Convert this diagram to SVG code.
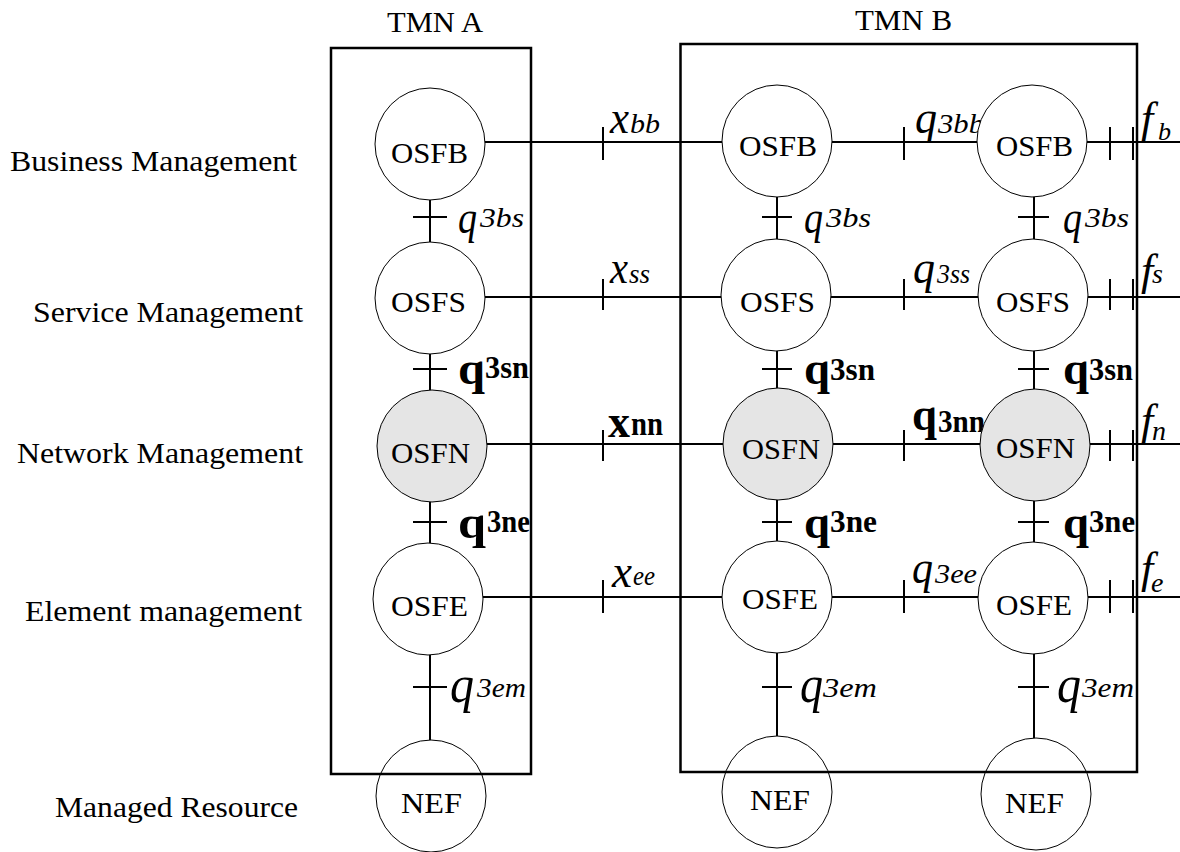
<svg xmlns="http://www.w3.org/2000/svg" width="1180" height="852" viewBox="0 0 1180 852">
<style>
text{font-family:"Liberation Serif","Times New Roman",serif;fill:#000}
.lbl{font-size:30px}
.nt{font-size:30px}
.it{font-style:italic}
.bd{font-weight:bold}
.ln{stroke:#000;stroke-width:2;fill:none}
.box{stroke:#000;stroke-width:2.5;fill:none}
.node{stroke:#000;stroke-width:1;fill:#fff}
.gray{fill:#e5e5e5}
</style>
<rect width="1180" height="852" fill="#fff"/>
<g id="layer-labels">
<text class="lbl" x="10" y="171" textLength="287" lengthAdjust="spacingAndGlyphs">Business Management</text>
<text class="lbl" x="33" y="322" textLength="270" lengthAdjust="spacingAndGlyphs">Service Management</text>
<text class="lbl" x="17" y="463" textLength="286" lengthAdjust="spacingAndGlyphs">Network Management</text>
<text class="lbl" x="25" y="621" textLength="277" lengthAdjust="spacingAndGlyphs">Element management</text>
<text class="lbl" x="55" y="817" textLength="243" lengthAdjust="spacingAndGlyphs">Managed Resource</text>
<text class="lbl" x="387" y="32" textLength="96" lengthAdjust="spacingAndGlyphs">TMN A</text>
<text class="lbl" x="855" y="30" textLength="97" lengthAdjust="spacingAndGlyphs">TMN B</text>
</g>
<g id="connectors">
<path class="ln" d="M485 142H722M832 142H977M1087 142H1180"/>
<path class="ln" d="M485 297H721M830 297H978M1088 297H1180"/>
<path class="ln" d="M487 444H724M833 444H981M1090 444H1180"/>
<path class="ln" d="M483 597H722M832 597H979M1088 597H1180"/>
<path class="ln" d="M603 127V160M904 127V160M1110 127V160M1133 127V160"/>
<path class="ln" d="M603 279V310M904 279V310M1110 279V310M1133 279V310"/>
<path class="ln" d="M603 430V461M904 430V461M1110 430V461M1133 430V461"/>
<path class="ln" d="M603 580V613M904 580V613M1110 580V613M1133 580V613"/>
<path class="ln" d="M430 200V242M430 354V390M430 502V543M430 655V740"/>
<path class="ln" d="M777 197V239M777 351V388M777 500V541M777 653V736"/>
<path class="ln" d="M1034 197V239M1034 351V389M1034 501V542M1034 654V738"/>
<path class="ln" d="M413 217H447M413 369H447M413 522H447M413 687H447"/>
<path class="ln" d="M762 217H792M762 369H792M762 522H792M762 687H792"/>
<path class="ln" d="M1018 217H1049M1018 369H1049M1018 522H1049M1018 687H1049"/>
</g>
<g id="interface-labels">
<g id="lbl-xbb"><text class="it" x="610" y="133" font-size="46" textLength="19" lengthAdjust="spacingAndGlyphs">x</text><text class="it" x="630" y="133" font-size="27" textLength="30" lengthAdjust="spacingAndGlyphs">bb</text></g>
<g id="lbl-xss"><text class="it" x="610" y="283" font-size="46" textLength="18" lengthAdjust="spacingAndGlyphs">x</text><text class="it" x="629" y="283" font-size="28" textLength="21" lengthAdjust="spacingAndGlyphs">ss</text></g>
<g id="lbl-xnn"><text class="bd" x="608" y="437" font-size="46" textLength="22" lengthAdjust="spacingAndGlyphs">x</text><text class="bd" x="631" y="435" font-size="33" textLength="32" lengthAdjust="spacingAndGlyphs">nn</text></g>
<g id="lbl-xee"><text class="it" x="612" y="587" font-size="46" textLength="20" lengthAdjust="spacingAndGlyphs">x</text><text class="it" x="633" y="585" font-size="28" textLength="22" lengthAdjust="spacingAndGlyphs">ee</text></g>
<g id="lbl-q3bb"><text class="it" x="915" y="133" font-size="46" textLength="22" lengthAdjust="spacingAndGlyphs">q</text><text class="it" x="938" y="133" font-size="27" textLength="46" lengthAdjust="spacingAndGlyphs">3bb</text></g>
<g id="lbl-q3ss"><text class="it" x="913" y="283" font-size="46" textLength="22" lengthAdjust="spacingAndGlyphs">q</text><text class="it" x="937" y="283" font-size="28" textLength="33" lengthAdjust="spacingAndGlyphs">3ss</text></g>
<g id="lbl-q3nn"><text class="bd" x="912" y="430" font-size="47" textLength="25" lengthAdjust="spacingAndGlyphs">q</text><text class="bd" x="938" y="432" font-size="31" textLength="47" lengthAdjust="spacingAndGlyphs">3nn</text></g>
<g id="lbl-q3ee"><text class="it" x="912" y="583" font-size="46" textLength="21" lengthAdjust="spacingAndGlyphs">q</text><text class="it" x="935" y="583" font-size="28" textLength="42" lengthAdjust="spacingAndGlyphs">3ee</text></g>
<g id="lbl-fb"><text class="it" x="1141" y="133" font-size="44">f</text><text class="it" x="1158" y="140" font-size="26">b</text></g>
<g id="lbl-fs"><text class="it" x="1141" y="285" font-size="44">f</text><text class="it" x="1152" y="283" font-size="28">s</text></g>
<g id="lbl-fn"><text class="it" x="1141" y="435" font-size="44">f</text><text class="it" x="1152" y="440" font-size="28">n</text></g>
<g id="lbl-fe"><text class="it" x="1141" y="583" font-size="44">f</text><text class="it" x="1151" y="592" font-size="28">e</text></g>
<g id="lbl-q3bs">
<text class="it" x="458" y="233" font-size="46" textLength="19" lengthAdjust="spacingAndGlyphs">q</text><text class="it" x="480" y="227" font-size="27" textLength="44" lengthAdjust="spacingAndGlyphs">3bs</text>
<text class="it" x="804" y="233" font-size="46" textLength="19" lengthAdjust="spacingAndGlyphs">q</text><text class="it" x="826" y="227" font-size="27" textLength="45" lengthAdjust="spacingAndGlyphs">3bs</text>
<text class="it" x="1063" y="233" font-size="46" textLength="19" lengthAdjust="spacingAndGlyphs">q</text><text class="it" x="1085" y="227" font-size="27" textLength="44" lengthAdjust="spacingAndGlyphs">3bs</text>
</g>
<g id="lbl-q3sn">
<text class="bd" x="458" y="384" font-size="47" textLength="27" lengthAdjust="spacingAndGlyphs">q</text><text class="bd" x="485" y="378" font-size="32" textLength="44" lengthAdjust="spacingAndGlyphs">3sn</text>
<text class="bd" x="804" y="384" font-size="47" textLength="26" lengthAdjust="spacingAndGlyphs">q</text><text class="bd" x="830" y="380" font-size="32" textLength="45" lengthAdjust="spacingAndGlyphs">3sn</text>
<text class="bd" x="1063" y="384" font-size="47" textLength="26" lengthAdjust="spacingAndGlyphs">q</text><text class="bd" x="1089" y="380" font-size="32" textLength="44" lengthAdjust="spacingAndGlyphs">3sn</text>
</g>
<g id="lbl-q3ne">
<text class="bd" x="458" y="538" font-size="47" textLength="28" lengthAdjust="spacingAndGlyphs">q</text><text class="bd" x="487" y="532" font-size="32" textLength="43" lengthAdjust="spacingAndGlyphs">3ne</text>
<text class="bd" x="804" y="538" font-size="47" textLength="26" lengthAdjust="spacingAndGlyphs">q</text><text class="bd" x="830" y="532" font-size="32" textLength="47" lengthAdjust="spacingAndGlyphs">3ne</text>
<text class="bd" x="1063" y="538" font-size="47" textLength="26" lengthAdjust="spacingAndGlyphs">q</text><text class="bd" x="1089" y="532" font-size="32" textLength="46" lengthAdjust="spacingAndGlyphs">3ne</text>
</g>
<g id="lbl-q3em">
<text class="it" x="450" y="702" font-size="52" textLength="24" lengthAdjust="spacingAndGlyphs">q</text><text class="it" x="477" y="697" font-size="27" textLength="49" lengthAdjust="spacingAndGlyphs">3em</text>
<text class="it" x="800" y="702" font-size="52" textLength="23" lengthAdjust="spacingAndGlyphs">q</text><text class="it" x="823" y="697" font-size="27" textLength="54" lengthAdjust="spacingAndGlyphs">3em</text>
<text class="it" x="1057" y="702" font-size="52" textLength="24" lengthAdjust="spacingAndGlyphs">q</text><text class="it" x="1082" y="697" font-size="27" textLength="52" lengthAdjust="spacingAndGlyphs">3em</text>
</g>
</g>
<g id="A-OSFB"><ellipse class="node" cx="430" cy="144" rx="55" ry="56"/><text class="nt" x="391" y="163" textLength="77" lengthAdjust="spacingAndGlyphs">OSFB</text></g>
<g id="A-OSFS"><ellipse class="node" cx="430" cy="298" rx="55" ry="56"/><text class="nt" x="391" y="312" textLength="75" lengthAdjust="spacingAndGlyphs">OSFS</text></g>
<g id="A-OSFN"><ellipse class="node gray" cx="432" cy="446" rx="55" ry="56"/><text class="nt" x="391" y="463" textLength="79" lengthAdjust="spacingAndGlyphs">OSFN</text></g>
<g id="A-OSFE"><ellipse class="node" cx="428" cy="599" rx="55" ry="56"/><text class="nt" x="391" y="616" textLength="77" lengthAdjust="spacingAndGlyphs">OSFE</text></g>
<g id="A-NEF"><ellipse class="node" cx="431" cy="796" rx="55" ry="56" fill="none"/><text class="nt" x="401" y="813" textLength="61" lengthAdjust="spacingAndGlyphs">NEF</text></g>
<g id="B1-OSFB"><ellipse class="node" cx="777" cy="141" rx="55" ry="56"/><text class="nt" x="739" y="156" textLength="78" lengthAdjust="spacingAndGlyphs">OSFB</text></g>
<g id="B1-OSFS"><ellipse class="node" cx="776" cy="295" rx="55" ry="56"/><text class="nt" x="740" y="312" textLength="75" lengthAdjust="spacingAndGlyphs">OSFS</text></g>
<g id="B1-OSFN"><ellipse class="node gray" cx="778" cy="444" rx="55" ry="56"/><text class="nt" x="742" y="459" textLength="78" lengthAdjust="spacingAndGlyphs">OSFN</text></g>
<g id="B1-OSFE"><ellipse class="node" cx="777" cy="597" rx="55" ry="56"/><text class="nt" x="742" y="609" textLength="76" lengthAdjust="spacingAndGlyphs">OSFE</text></g>
<g id="B1-NEF"><ellipse class="node" cx="777" cy="792" rx="55" ry="56"/><text class="nt" x="750" y="810" textLength="60" lengthAdjust="spacingAndGlyphs">NEF</text></g>
<g id="B2-OSFB"><ellipse class="node" cx="1032" cy="141" rx="55" ry="56"/><text class="nt" x="996" y="156" textLength="77" lengthAdjust="spacingAndGlyphs">OSFB</text></g>
<g id="B2-OSFS"><ellipse class="node" cx="1033" cy="295" rx="55" ry="56"/><text class="nt" x="996" y="312" textLength="74" lengthAdjust="spacingAndGlyphs">OSFS</text></g>
<g id="B2-OSFN"><ellipse class="node gray" cx="1035" cy="445" rx="55" ry="56"/><text class="nt" x="996" y="458" textLength="79" lengthAdjust="spacingAndGlyphs">OSFN</text></g>
<g id="B2-OSFE"><ellipse class="node" cx="1033" cy="598" rx="55" ry="56"/><text class="nt" x="996" y="615" textLength="76" lengthAdjust="spacingAndGlyphs">OSFE</text></g>
<g id="B2-NEF"><ellipse class="node" cx="1036" cy="794" rx="55" ry="56"/><text class="nt" x="1005" y="813" textLength="59" lengthAdjust="spacingAndGlyphs">NEF</text></g>
<g id="domains">
<rect class="box" x="331" y="48" width="200" height="726"/>
<rect class="box" x="680.5" y="44" width="456.5" height="728"/>
</g>
</svg>
